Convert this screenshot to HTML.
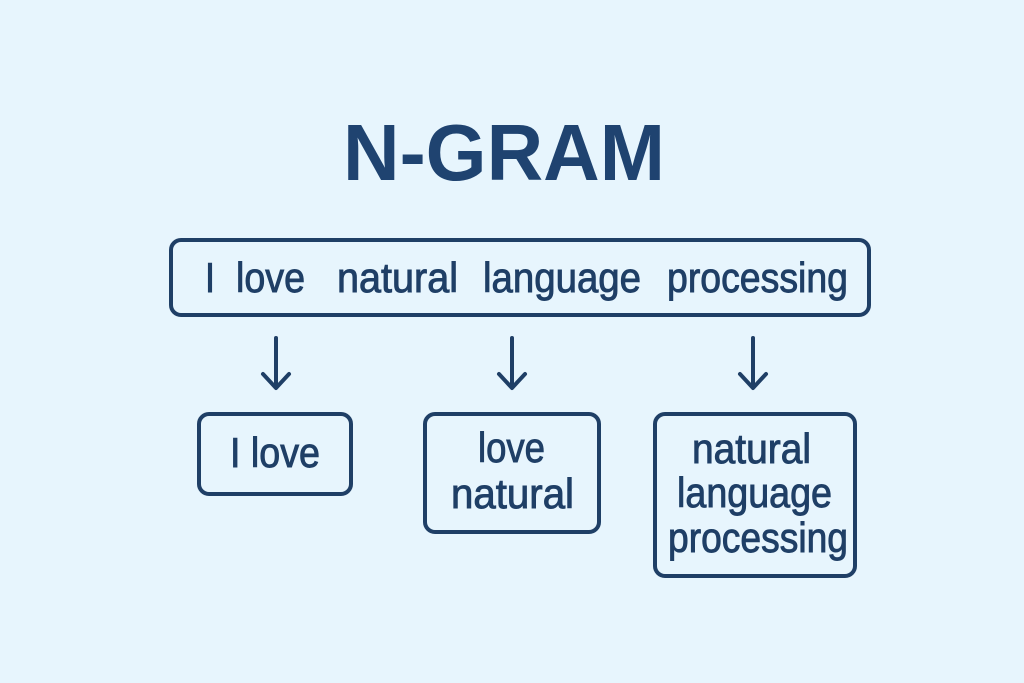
<!DOCTYPE html>
<html>
<head>
<meta charset="utf-8">
<style>
  html,body{margin:0;padding:0;background:#e7f5fd;}
  svg{display:block;}
  text{font-family:"Liberation Sans", Arial, sans-serif;fill:#1f3f66;}
  .t{font-size:42px;stroke:#1f3f66;stroke-width:0.9px;}
</style>
</head>
<body>
<svg width="1024" height="683" viewBox="0 0 1024 683" xmlns="http://www.w3.org/2000/svg">
  <rect x="0" y="0" width="1024" height="683" fill="#e7f5fd"/>

  <!-- Title -->
  <text x="343" y="180" font-size="80" font-weight="bold" textLength="322" lengthAdjust="spacingAndGlyphs" style="fill:#1f4370">N-GRAM</text>

  <!-- Main sentence box -->
  <rect x="171" y="240" width="698" height="75" rx="10" ry="10" fill="none" stroke="#1f3f66" stroke-width="4"/>
  <text class="t" x="205" y="292" textLength="10" lengthAdjust="spacingAndGlyphs">I</text>
  <text class="t" x="236" y="292" textLength="69" lengthAdjust="spacingAndGlyphs">love</text>
  <text class="t" x="337" y="292" textLength="121" lengthAdjust="spacingAndGlyphs">natural</text>
  <text class="t" x="483" y="292" textLength="158" lengthAdjust="spacingAndGlyphs">language</text>
  <text class="t" x="667" y="292" textLength="181" lengthAdjust="spacingAndGlyphs">processing</text>

  <!-- Arrows -->
  <g fill="none" stroke="#1f3f66" stroke-width="4" stroke-linecap="round" stroke-linejoin="round">
    <line x1="276" y1="338" x2="276" y2="387"/>
    <polyline points="263,374 276,388 289,374"/>
    <line x1="512" y1="338" x2="512" y2="387"/>
    <polyline points="499,374 512,388 525,374"/>
    <line x1="753" y1="338" x2="753" y2="387"/>
    <polyline points="740,374 753,388 766,374"/>
  </g>

  <!-- Box 1 -->
  <rect x="199" y="414" width="152" height="80" rx="10" ry="10" fill="none" stroke="#1f3f66" stroke-width="4"/>
  <text class="t" x="230" y="467" textLength="90" lengthAdjust="spacingAndGlyphs">I love</text>

  <!-- Box 2 -->
  <rect x="425" y="414" width="174" height="118" rx="10" ry="10" fill="none" stroke="#1f3f66" stroke-width="4"/>
  <text class="t" x="478" y="462" textLength="67" lengthAdjust="spacingAndGlyphs">love</text>
  <text class="t" x="451" y="508" textLength="123" lengthAdjust="spacingAndGlyphs">natural</text>

  <!-- Box 3 -->
  <rect x="655" y="414" width="200" height="162" rx="10" ry="10" fill="none" stroke="#1f3f66" stroke-width="4"/>
  <text class="t" x="692" y="463" textLength="119" lengthAdjust="spacingAndGlyphs">natural</text>
  <text class="t" x="677" y="507" textLength="155" lengthAdjust="spacingAndGlyphs">language</text>
  <text class="t" x="668" y="552" textLength="180" lengthAdjust="spacingAndGlyphs">processing</text>
</svg>
</body>
</html>
